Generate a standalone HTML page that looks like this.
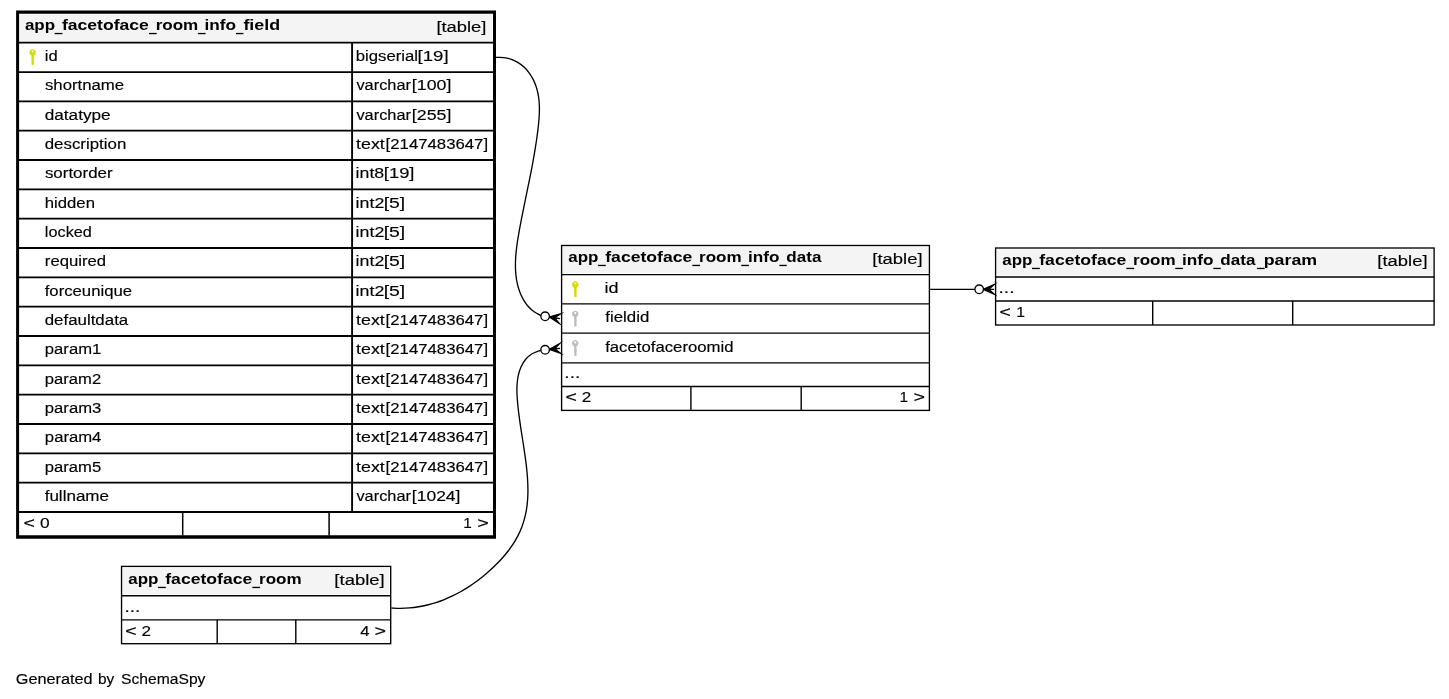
<!DOCTYPE html>
<html><head><meta charset="utf-8"><title>app_facetoface_room_info_field</title>
<style>
html,body{margin:0;padding:0;background:#fff;}
svg{display:block;will-change:transform;font-family:"Liberation Sans",sans-serif;font-size:15.4px;}
</style></head><body>
<svg width="1449" height="699" viewBox="0 0 1449 699">
<rect x="0" y="0" width="1449" height="699" fill="#fff"/>
<rect x="19.90" y="14.50" width="472.30" height="26.80" fill="#f4f4f4"/>
<line x1="19.00" y1="42.70" x2="493.00" y2="42.70" stroke="#000" stroke-width="1.8"/>
<line x1="19.00" y1="72.03" x2="493.00" y2="72.03" stroke="#000" stroke-width="1.8"/>
<line x1="19.00" y1="101.36" x2="493.00" y2="101.36" stroke="#000" stroke-width="1.8"/>
<line x1="19.00" y1="130.69" x2="493.00" y2="130.69" stroke="#000" stroke-width="1.8"/>
<line x1="19.00" y1="160.02" x2="493.00" y2="160.02" stroke="#000" stroke-width="1.8"/>
<line x1="19.00" y1="189.35" x2="493.00" y2="189.35" stroke="#000" stroke-width="1.8"/>
<line x1="19.00" y1="218.68" x2="493.00" y2="218.68" stroke="#000" stroke-width="1.8"/>
<line x1="19.00" y1="248.01" x2="493.00" y2="248.01" stroke="#000" stroke-width="1.8"/>
<line x1="19.00" y1="277.34" x2="493.00" y2="277.34" stroke="#000" stroke-width="1.8"/>
<line x1="19.00" y1="306.67" x2="493.00" y2="306.67" stroke="#000" stroke-width="1.8"/>
<line x1="19.00" y1="336.00" x2="493.00" y2="336.00" stroke="#000" stroke-width="1.8"/>
<line x1="19.00" y1="365.33" x2="493.00" y2="365.33" stroke="#000" stroke-width="1.8"/>
<line x1="19.00" y1="394.66" x2="493.00" y2="394.66" stroke="#000" stroke-width="1.8"/>
<line x1="19.00" y1="423.99" x2="493.00" y2="423.99" stroke="#000" stroke-width="1.8"/>
<line x1="19.00" y1="453.32" x2="493.00" y2="453.32" stroke="#000" stroke-width="1.8"/>
<line x1="19.00" y1="482.65" x2="493.00" y2="482.65" stroke="#000" stroke-width="1.8"/>
<line x1="19.00" y1="511.98" x2="493.00" y2="511.98" stroke="#000" stroke-width="1.8"/>
<line x1="352.10" y1="42.70" x2="352.10" y2="511.98" stroke="#000" stroke-width="1.9"/>
<line x1="182.70" y1="511.98" x2="182.70" y2="535.50" stroke="#000" stroke-width="1.5"/>
<line x1="329.10" y1="511.98" x2="329.10" y2="535.50" stroke="#000" stroke-width="1.5"/>
<path fill-rule="evenodd" d="M16.1,10.5 H496.0 V538.8 H16.1 Z M19.1,13.7 H493.0 V535.3 H19.1 Z" fill="#000"/>
<text x="24.91" y="29.80" textLength="30.19" lengthAdjust="spacingAndGlyphs" font-weight="bold" fill="#000">app</text>
<text x="61.90" y="29.80" textLength="86.99" lengthAdjust="spacingAndGlyphs" font-weight="bold" fill="#000">facetoface</text>
<text x="155.68" y="29.80" textLength="42.58" lengthAdjust="spacingAndGlyphs" font-weight="bold" fill="#000">room</text>
<text x="204.60" y="29.80" textLength="31.46" lengthAdjust="spacingAndGlyphs" font-weight="bold" fill="#000">info</text>
<text x="243.40" y="29.80" textLength="36.67" lengthAdjust="spacingAndGlyphs" font-weight="bold" fill="#000">field</text>
<rect x="54.65" y="32.90" width="7.80" height="1.30" fill="#000"/>
<rect x="149.00" y="32.90" width="7.70" height="1.30" fill="#000"/>
<rect x="197.90" y="32.90" width="7.70" height="1.30" fill="#000"/>
<rect x="236.00" y="32.90" width="7.40" height="1.30" fill="#000"/>
<text x="436.40" y="31.85" textLength="50.01" lengthAdjust="spacingAndGlyphs" stroke="#000" stroke-width="0.15" fill="#000">[table]</text>
<text x="44.87" y="60.90" textLength="12.90" lengthAdjust="spacingAndGlyphs" stroke="#000" stroke-width="0.15" fill="#000">id</text>
<text x="355.73" y="60.90" textLength="62.29" lengthAdjust="spacingAndGlyphs" stroke="#000" stroke-width="0.15" fill="#000">bigserial</text>
<text x="417.58" y="60.90" textLength="31.04" lengthAdjust="spacingAndGlyphs" stroke="#000" stroke-width="0.15" fill="#000">[19]</text>
<text x="44.93" y="90.23" textLength="79.25" lengthAdjust="spacingAndGlyphs" stroke="#000" stroke-width="0.15" fill="#000">shortname</text>
<text x="356.45" y="90.23" textLength="54.52" lengthAdjust="spacingAndGlyphs" stroke="#000" stroke-width="0.15" fill="#000">varchar</text>
<text x="411.84" y="90.23" textLength="39.53" lengthAdjust="spacingAndGlyphs" stroke="#000" stroke-width="0.15" fill="#000">[100]</text>
<text x="44.69" y="119.56" textLength="65.95" lengthAdjust="spacingAndGlyphs" stroke="#000" stroke-width="0.15" fill="#000">datatype</text>
<text x="356.45" y="119.56" textLength="54.52" lengthAdjust="spacingAndGlyphs" stroke="#000" stroke-width="0.15" fill="#000">varchar</text>
<text x="411.84" y="119.56" textLength="39.53" lengthAdjust="spacingAndGlyphs" stroke="#000" stroke-width="0.15" fill="#000">[255]</text>
<text x="44.70" y="148.89" textLength="81.62" lengthAdjust="spacingAndGlyphs" stroke="#000" stroke-width="0.15" fill="#000">description</text>
<text x="356.08" y="148.89" textLength="28.74" lengthAdjust="spacingAndGlyphs" stroke="#000" stroke-width="0.15" fill="#000">text</text>
<text x="385.61" y="148.89" textLength="102.48" lengthAdjust="spacingAndGlyphs" stroke="#000" stroke-width="0.15" fill="#000">[2147483647]</text>
<text x="44.92" y="178.22" textLength="67.72" lengthAdjust="spacingAndGlyphs" stroke="#000" stroke-width="0.15" fill="#000">sortorder</text>
<text x="355.61" y="178.22" textLength="28.55" lengthAdjust="spacingAndGlyphs" stroke="#000" stroke-width="0.15" fill="#000">int8</text>
<text x="383.79" y="178.22" textLength="30.71" lengthAdjust="spacingAndGlyphs" stroke="#000" stroke-width="0.15" fill="#000">[19]</text>
<text x="44.79" y="207.55" textLength="50.15" lengthAdjust="spacingAndGlyphs" stroke="#000" stroke-width="0.15" fill="#000">hidden</text>
<text x="355.61" y="207.55" textLength="28.69" lengthAdjust="spacingAndGlyphs" stroke="#000" stroke-width="0.15" fill="#000">int2</text>
<text x="383.72" y="207.55" textLength="21.55" lengthAdjust="spacingAndGlyphs" stroke="#000" stroke-width="0.15" fill="#000">[5]</text>
<text x="44.89" y="236.88" textLength="47.02" lengthAdjust="spacingAndGlyphs" stroke="#000" stroke-width="0.15" fill="#000">locked</text>
<text x="355.61" y="236.88" textLength="28.69" lengthAdjust="spacingAndGlyphs" stroke="#000" stroke-width="0.15" fill="#000">int2</text>
<text x="383.72" y="236.88" textLength="21.55" lengthAdjust="spacingAndGlyphs" stroke="#000" stroke-width="0.15" fill="#000">[5]</text>
<text x="44.84" y="266.21" textLength="61.19" lengthAdjust="spacingAndGlyphs" stroke="#000" stroke-width="0.15" fill="#000">required</text>
<text x="355.61" y="266.21" textLength="28.69" lengthAdjust="spacingAndGlyphs" stroke="#000" stroke-width="0.15" fill="#000">int2</text>
<text x="383.72" y="266.21" textLength="21.55" lengthAdjust="spacingAndGlyphs" stroke="#000" stroke-width="0.15" fill="#000">[5]</text>
<text x="44.70" y="295.54" textLength="87.42" lengthAdjust="spacingAndGlyphs" stroke="#000" stroke-width="0.15" fill="#000">forceunique</text>
<text x="355.61" y="295.54" textLength="28.69" lengthAdjust="spacingAndGlyphs" stroke="#000" stroke-width="0.15" fill="#000">int2</text>
<text x="383.72" y="295.54" textLength="21.55" lengthAdjust="spacingAndGlyphs" stroke="#000" stroke-width="0.15" fill="#000">[5]</text>
<text x="44.70" y="324.87" textLength="83.53" lengthAdjust="spacingAndGlyphs" stroke="#000" stroke-width="0.15" fill="#000">defaultdata</text>
<text x="356.08" y="324.87" textLength="28.74" lengthAdjust="spacingAndGlyphs" stroke="#000" stroke-width="0.15" fill="#000">text</text>
<text x="385.61" y="324.87" textLength="102.48" lengthAdjust="spacingAndGlyphs" stroke="#000" stroke-width="0.15" fill="#000">[2147483647]</text>
<text x="44.88" y="354.20" textLength="56.34" lengthAdjust="spacingAndGlyphs" stroke="#000" stroke-width="0.15" fill="#000">param1</text>
<text x="356.08" y="354.20" textLength="28.74" lengthAdjust="spacingAndGlyphs" stroke="#000" stroke-width="0.15" fill="#000">text</text>
<text x="385.61" y="354.20" textLength="102.48" lengthAdjust="spacingAndGlyphs" stroke="#000" stroke-width="0.15" fill="#000">[2147483647]</text>
<text x="44.88" y="383.53" textLength="56.24" lengthAdjust="spacingAndGlyphs" stroke="#000" stroke-width="0.15" fill="#000">param2</text>
<text x="356.08" y="383.53" textLength="28.74" lengthAdjust="spacingAndGlyphs" stroke="#000" stroke-width="0.15" fill="#000">text</text>
<text x="385.61" y="383.53" textLength="102.48" lengthAdjust="spacingAndGlyphs" stroke="#000" stroke-width="0.15" fill="#000">[2147483647]</text>
<text x="44.87" y="412.86" textLength="56.44" lengthAdjust="spacingAndGlyphs" stroke="#000" stroke-width="0.15" fill="#000">param3</text>
<text x="356.08" y="412.86" textLength="28.74" lengthAdjust="spacingAndGlyphs" stroke="#000" stroke-width="0.15" fill="#000">text</text>
<text x="385.61" y="412.86" textLength="102.48" lengthAdjust="spacingAndGlyphs" stroke="#000" stroke-width="0.15" fill="#000">[2147483647]</text>
<text x="44.87" y="442.19" textLength="56.54" lengthAdjust="spacingAndGlyphs" stroke="#000" stroke-width="0.15" fill="#000">param4</text>
<text x="356.08" y="442.19" textLength="28.74" lengthAdjust="spacingAndGlyphs" stroke="#000" stroke-width="0.15" fill="#000">text</text>
<text x="385.61" y="442.19" textLength="102.48" lengthAdjust="spacingAndGlyphs" stroke="#000" stroke-width="0.15" fill="#000">[2147483647]</text>
<text x="44.88" y="471.52" textLength="56.30" lengthAdjust="spacingAndGlyphs" stroke="#000" stroke-width="0.15" fill="#000">param5</text>
<text x="356.08" y="471.52" textLength="28.74" lengthAdjust="spacingAndGlyphs" stroke="#000" stroke-width="0.15" fill="#000">text</text>
<text x="385.61" y="471.52" textLength="102.48" lengthAdjust="spacingAndGlyphs" stroke="#000" stroke-width="0.15" fill="#000">[2147483647]</text>
<text x="44.70" y="500.85" textLength="64.32" lengthAdjust="spacingAndGlyphs" stroke="#000" stroke-width="0.15" fill="#000">fullname</text>
<text x="356.45" y="500.85" textLength="54.52" lengthAdjust="spacingAndGlyphs" stroke="#000" stroke-width="0.15" fill="#000">varchar</text>
<text x="411.86" y="500.85" textLength="48.59" lengthAdjust="spacingAndGlyphs" stroke="#000" stroke-width="0.15" fill="#000">[1024]</text>
<g transform="translate(32.60,52.40)" fill="#d3dc00"><path fill-rule="evenodd" d="M0,-3.25 A3.25,3.25 0 1 1 -0.01,-3.25 Z M0,-1.85 A0.95,0.95 0 1 0 0.01,-1.85 Z"/><path d="M-1.2,2.4 L1.25,2.4 L1.25,5.9 L1.8,6.3 L1.25,6.8 L1.25,8.0 L1.8,8.4 L1.25,8.9 L1.25,10.9 L1.8,11.4 L1.0,12.2 L0.5,12.8 L-0.4,12.8 L-1.0,12.0 Z"/></g>
<text x="23.44" y="527.70" textLength="11.42" lengthAdjust="spacingAndGlyphs" stroke="#000" stroke-width="0.15" fill="#000">&lt;</text>
<text x="40.07" y="527.70" textLength="9.66" lengthAdjust="spacingAndGlyphs" stroke="#000" stroke-width="0.15" fill="#000">0</text>
<text x="463.24" y="527.70" textLength="8.52" lengthAdjust="spacingAndGlyphs" stroke="#000" stroke-width="0.15" fill="#000">1</text>
<text x="477.33" y="527.70" textLength="11.54" lengthAdjust="spacingAndGlyphs" stroke="#000" stroke-width="0.15" fill="#000">&gt;</text>
<rect x="563.05" y="247.00" width="364.90" height="26.00" fill="#f4f4f4"/>
<line x1="561.60" y1="274.60" x2="929.40" y2="274.60" stroke="#000" stroke-width="1.35"/>
<line x1="561.60" y1="303.90" x2="929.40" y2="303.90" stroke="#000" stroke-width="1.35"/>
<line x1="561.60" y1="333.10" x2="929.40" y2="333.10" stroke="#000" stroke-width="1.35"/>
<line x1="561.60" y1="362.80" x2="929.40" y2="362.80" stroke="#000" stroke-width="1.35"/>
<line x1="561.60" y1="386.50" x2="929.40" y2="386.50" stroke="#000" stroke-width="1.35"/>
<line x1="690.90" y1="386.50" x2="690.90" y2="410.40" stroke="#000" stroke-width="1.4"/>
<line x1="801.20" y1="386.50" x2="801.20" y2="410.40" stroke="#000" stroke-width="1.4"/>
<rect x="561.60" y="245.50" width="367.80" height="164.90" fill="none" stroke="#000" stroke-width="1.35"/>
<text x="568.26" y="261.70" textLength="30.19" lengthAdjust="spacingAndGlyphs" font-weight="bold" fill="#000">app</text>
<text x="605.25" y="261.70" textLength="86.99" lengthAdjust="spacingAndGlyphs" font-weight="bold" fill="#000">facetoface</text>
<text x="699.03" y="261.70" textLength="42.58" lengthAdjust="spacingAndGlyphs" font-weight="bold" fill="#000">room</text>
<text x="747.95" y="261.70" textLength="31.46" lengthAdjust="spacingAndGlyphs" font-weight="bold" fill="#000">info</text>
<text x="786.35" y="261.70" textLength="35.08" lengthAdjust="spacingAndGlyphs" font-weight="bold" fill="#000">data</text>
<rect x="598.00" y="264.80" width="7.80" height="1.30" fill="#000"/>
<rect x="692.35" y="264.80" width="7.70" height="1.30" fill="#000"/>
<rect x="741.25" y="264.80" width="7.70" height="1.30" fill="#000"/>
<rect x="779.35" y="264.80" width="7.40" height="1.30" fill="#000"/>
<text x="872.39" y="263.85" textLength="50.22" lengthAdjust="spacingAndGlyphs" stroke="#000" stroke-width="0.15" fill="#000">[table]</text>
<text x="604.49" y="292.90" textLength="14.07" lengthAdjust="spacingAndGlyphs" stroke="#000" stroke-width="0.15" fill="#000">id</text>
<text x="605.26" y="321.90" textLength="44.01" lengthAdjust="spacingAndGlyphs" stroke="#000" stroke-width="0.15" fill="#000">fieldid</text>
<text x="605.17" y="351.60" textLength="128.40" lengthAdjust="spacingAndGlyphs" stroke="#000" stroke-width="0.15" fill="#000">facetofaceroomid</text>
<g transform="translate(575.25,284.50)" fill="#d3dc00"><path fill-rule="evenodd" d="M0,-3.25 A3.25,3.25 0 1 1 -0.01,-3.25 Z M0,-1.85 A0.95,0.95 0 1 0 0.01,-1.85 Z"/><path d="M-1.2,2.4 L1.25,2.4 L1.25,5.9 L1.8,6.3 L1.25,6.8 L1.25,8.0 L1.8,8.4 L1.25,8.9 L1.25,10.9 L1.8,11.4 L1.0,12.2 L0.5,12.8 L-0.4,12.8 L-1.0,12.0 Z"/></g>
<g transform="translate(575.25,313.90)" fill="#bebebe"><path fill-rule="evenodd" d="M0,-3.25 A3.25,3.25 0 1 1 -0.01,-3.25 Z M0,-1.85 A0.95,0.95 0 1 0 0.01,-1.85 Z"/><path d="M-1.2,2.4 L1.25,2.4 L1.25,5.9 L1.8,6.3 L1.25,6.8 L1.25,8.0 L1.8,8.4 L1.25,8.9 L1.25,10.9 L1.8,11.4 L1.0,12.2 L0.5,12.8 L-0.4,12.8 L-1.0,12.0 Z"/></g>
<g transform="translate(575.25,343.30)" fill="#bebebe"><path fill-rule="evenodd" d="M0,-3.25 A3.25,3.25 0 1 1 -0.01,-3.25 Z M0,-1.85 A0.95,0.95 0 1 0 0.01,-1.85 Z"/><path d="M-1.2,2.4 L1.25,2.4 L1.25,5.9 L1.8,6.3 L1.25,6.8 L1.25,8.0 L1.8,8.4 L1.25,8.9 L1.25,10.9 L1.8,11.4 L1.0,12.2 L0.5,12.8 L-0.4,12.8 L-1.0,12.0 Z"/></g>
<text x="564.36" y="378.30" textLength="15.98" lengthAdjust="spacingAndGlyphs" stroke="#000" stroke-width="0.15" fill="#000">...</text>
<text x="565.44" y="402.10" textLength="11.42" lengthAdjust="spacingAndGlyphs" stroke="#000" stroke-width="0.15" fill="#000">&lt;</text>
<text x="581.74" y="402.10" textLength="9.51" lengthAdjust="spacingAndGlyphs" stroke="#000" stroke-width="0.15" fill="#000">2</text>
<text x="899.44" y="402.10" textLength="8.52" lengthAdjust="spacingAndGlyphs" stroke="#000" stroke-width="0.15" fill="#000">1</text>
<text x="913.63" y="402.10" textLength="11.54" lengthAdjust="spacingAndGlyphs" stroke="#000" stroke-width="0.15" fill="#000">&gt;</text>
<rect x="997.05" y="249.50" width="435.60" height="25.90" fill="#f4f4f4"/>
<line x1="995.60" y1="277.00" x2="1434.10" y2="277.00" stroke="#000" stroke-width="1.35"/>
<line x1="995.60" y1="301.00" x2="1434.10" y2="301.00" stroke="#000" stroke-width="1.35"/>
<line x1="1152.70" y1="301.00" x2="1152.70" y2="325.00" stroke="#000" stroke-width="1.4"/>
<line x1="1292.70" y1="301.00" x2="1292.70" y2="325.00" stroke="#000" stroke-width="1.4"/>
<rect x="995.60" y="248.00" width="438.50" height="77.00" fill="none" stroke="#000" stroke-width="1.35"/>
<text x="1002.26" y="264.70" textLength="30.19" lengthAdjust="spacingAndGlyphs" font-weight="bold" fill="#000">app</text>
<text x="1039.25" y="264.70" textLength="86.99" lengthAdjust="spacingAndGlyphs" font-weight="bold" fill="#000">facetoface</text>
<text x="1133.03" y="264.70" textLength="42.58" lengthAdjust="spacingAndGlyphs" font-weight="bold" fill="#000">room</text>
<text x="1181.95" y="264.70" textLength="31.46" lengthAdjust="spacingAndGlyphs" font-weight="bold" fill="#000">info</text>
<text x="1220.35" y="264.70" textLength="35.08" lengthAdjust="spacingAndGlyphs" font-weight="bold" fill="#000">data</text>
<text x="1263.78" y="264.70" textLength="53.38" lengthAdjust="spacingAndGlyphs" font-weight="bold" fill="#000">param</text>
<rect x="1032.00" y="267.80" width="7.80" height="1.30" fill="#000"/>
<rect x="1126.35" y="267.80" width="7.70" height="1.30" fill="#000"/>
<rect x="1175.25" y="267.80" width="7.70" height="1.30" fill="#000"/>
<rect x="1213.35" y="267.80" width="7.40" height="1.30" fill="#000"/>
<rect x="1256.95" y="267.80" width="7.70" height="1.30" fill="#000"/>
<text x="1377.39" y="265.90" textLength="50.22" lengthAdjust="spacingAndGlyphs" stroke="#000" stroke-width="0.15" fill="#000">[table]</text>
<text x="998.57" y="293.00" textLength="15.85" lengthAdjust="spacingAndGlyphs" stroke="#000" stroke-width="0.15" fill="#000">...</text>
<text x="999.54" y="316.80" textLength="11.42" lengthAdjust="spacingAndGlyphs" stroke="#000" stroke-width="0.15" fill="#000">&lt;</text>
<text x="1016.30" y="316.80" textLength="8.77" lengthAdjust="spacingAndGlyphs" stroke="#000" stroke-width="0.15" fill="#000">1</text>
<rect x="123.00" y="567.90" width="266.25" height="26.20" fill="#f4f4f4"/>
<line x1="121.55" y1="595.70" x2="390.70" y2="595.70" stroke="#000" stroke-width="1.35"/>
<line x1="121.55" y1="619.80" x2="390.70" y2="619.80" stroke="#000" stroke-width="1.35"/>
<line x1="217.20" y1="619.80" x2="217.20" y2="643.70" stroke="#000" stroke-width="1.4"/>
<line x1="295.80" y1="619.80" x2="295.80" y2="643.70" stroke="#000" stroke-width="1.4"/>
<rect x="121.55" y="566.40" width="269.15" height="77.30" fill="none" stroke="#000" stroke-width="1.35"/>
<text x="128.26" y="583.70" textLength="30.19" lengthAdjust="spacingAndGlyphs" font-weight="bold" fill="#000">app</text>
<text x="165.25" y="583.70" textLength="86.99" lengthAdjust="spacingAndGlyphs" font-weight="bold" fill="#000">facetoface</text>
<text x="259.03" y="583.70" textLength="42.58" lengthAdjust="spacingAndGlyphs" font-weight="bold" fill="#000">room</text>
<rect x="158.00" y="586.80" width="7.80" height="1.30" fill="#000"/>
<rect x="252.35" y="586.80" width="7.70" height="1.30" fill="#000"/>
<text x="334.39" y="584.70" textLength="50.33" lengthAdjust="spacingAndGlyphs" stroke="#000" stroke-width="0.15" fill="#000">[table]</text>
<text x="124.47" y="612.10" textLength="15.85" lengthAdjust="spacingAndGlyphs" stroke="#000" stroke-width="0.15" fill="#000">...</text>
<text x="125.24" y="635.70" textLength="11.42" lengthAdjust="spacingAndGlyphs" stroke="#000" stroke-width="0.15" fill="#000">&lt;</text>
<text x="141.54" y="635.70" textLength="9.51" lengthAdjust="spacingAndGlyphs" stroke="#000" stroke-width="0.15" fill="#000">2</text>
<text x="360.22" y="635.60" textLength="9.27" lengthAdjust="spacingAndGlyphs" stroke="#000" stroke-width="0.15" fill="#000">4</text>
<text x="374.53" y="635.60" textLength="11.54" lengthAdjust="spacingAndGlyphs" stroke="#000" stroke-width="0.15" fill="#000">&gt;</text>
<text x="15.79" y="683.70" textLength="76.86" lengthAdjust="spacingAndGlyphs" stroke="#000" stroke-width="0.15" fill="#000">Generated</text>
<text x="98.01" y="683.70" textLength="16.32" lengthAdjust="spacingAndGlyphs" stroke="#000" stroke-width="0.15" fill="#000">by</text>
<text x="121.00" y="683.70" textLength="84.43" lengthAdjust="spacingAndGlyphs" stroke="#000" stroke-width="0.15" fill="#000">SchemaSpy</text>
<path d="M496.00,57.40 C497.34,57.43 501.45,57.24 504.03,57.57 C506.61,57.90 509.11,58.54 511.46,59.38 C513.82,60.23 516.07,61.35 518.17,62.64 C520.26,63.92 522.22,65.45 524.02,67.11 C525.81,68.78 527.45,70.64 528.92,72.61 C530.40,74.57 531.71,76.70 532.87,78.90 C534.03,81.09 535.02,83.42 535.86,85.77 C536.69,88.12 537.36,90.56 537.88,93.01 C538.41,95.46 538.76,97.96 539.01,100.47 C539.27,102.98 539.37,105.53 539.41,108.08 C539.44,110.63 539.35,113.21 539.22,115.77 C539.09,118.34 538.86,120.92 538.61,123.49 C538.36,126.05 538.05,128.61 537.74,131.15 C537.42,133.69 537.08,136.22 536.72,138.73 C536.37,141.24 535.99,143.73 535.60,146.21 C535.21,148.69 534.80,151.16 534.38,153.62 C533.97,156.08 533.53,158.53 533.09,160.97 C532.64,163.42 532.18,165.85 531.72,168.28 C531.25,170.71 530.78,173.14 530.30,175.56 C529.81,177.99 529.32,180.41 528.83,182.83 C528.34,185.25 527.84,187.67 527.34,190.09 C526.84,192.52 526.34,194.94 525.84,197.37 C525.34,199.81 524.83,202.24 524.34,204.69 C523.84,207.13 523.34,209.58 522.85,212.04 C522.36,214.50 521.87,216.97 521.39,219.45 C520.91,221.94 520.43,224.43 519.97,226.94 C519.50,229.45 519.04,231.98 518.61,234.52 C518.17,237.05 517.74,239.61 517.37,242.16 C517.00,244.71 516.64,247.28 516.36,249.83 C516.08,252.39 515.83,254.95 515.68,257.49 C515.52,260.04 515.42,262.58 515.42,265.10 C515.42,267.62 515.50,270.13 515.70,272.61 C515.89,275.10 516.18,277.56 516.60,280.00 C517.02,282.43 517.55,284.84 518.24,287.21 C518.92,289.57 519.73,291.93 520.70,294.20 C521.68,296.46 522.80,298.71 524.10,300.81 C525.41,302.91 526.87,304.94 528.54,306.77 C530.20,308.61 532.04,310.33 534.10,311.81 C536.16,313.29 539.77,315.00 540.90,315.64" fill="none" stroke="#000" stroke-width="1.33"/>
<path d="M391.30,608.00 C392.83,608.05 397.46,608.34 400.51,608.32 C403.55,608.30 406.58,608.16 409.59,607.90 C412.59,607.64 415.57,607.26 418.53,606.78 C421.48,606.29 424.41,605.69 427.31,604.98 C430.20,604.28 433.07,603.46 435.91,602.55 C438.75,601.64 441.55,600.62 444.32,599.52 C447.09,598.41 449.83,597.21 452.52,595.92 C455.22,594.63 457.88,593.24 460.50,591.78 C463.11,590.32 465.69,588.77 468.23,587.15 C470.76,585.53 473.25,583.83 475.69,582.06 C478.14,580.29 480.54,578.44 482.89,576.53 C485.23,574.63 487.54,572.65 489.78,570.61 C492.03,568.58 494.23,566.48 496.37,564.33 C498.50,562.18 500.60,559.98 502.59,557.71 C504.59,555.44 506.53,553.12 508.35,550.73 C510.17,548.34 511.91,545.89 513.52,543.37 C515.13,540.85 516.64,538.27 517.99,535.62 C519.35,532.97 520.58,530.24 521.65,527.46 C522.72,524.67 523.65,521.81 524.43,518.91 C525.22,516.02 525.86,513.06 526.37,510.09 C526.88,507.13 527.25,504.12 527.50,501.11 C527.76,498.10 527.88,495.07 527.92,492.04 C527.97,489.02 527.89,485.98 527.76,482.96 C527.64,479.94 527.41,476.91 527.16,473.91 C526.91,470.91 526.59,467.93 526.24,464.95 C525.90,461.98 525.51,459.02 525.10,456.07 C524.69,453.11 524.25,450.17 523.80,447.23 C523.35,444.28 522.88,441.34 522.42,438.39 C521.96,435.45 521.49,432.50 521.03,429.54 C520.58,426.58 520.13,423.62 519.72,420.64 C519.30,417.65 518.90,414.66 518.54,411.64 C518.18,408.63 517.84,405.59 517.58,402.53 C517.31,399.48 517.06,396.39 516.97,393.33 C516.89,390.27 516.87,387.19 517.09,384.19 C517.31,381.19 517.66,378.19 518.31,375.31 C518.96,372.43 519.81,369.55 521.01,366.92 C522.21,364.28 523.67,361.71 525.51,359.51 C527.35,357.30 529.49,355.26 532.05,353.70 C534.61,352.14 539.40,350.74 540.87,350.15" fill="none" stroke="#000" stroke-width="1.33"/>
<line x1="930.10" y1="289.30" x2="974.90" y2="289.30" stroke="#000" stroke-width="1.33"/>
<path d="M549.34,316.93 L559.16,323.29 L554.61,317.73 L559.89,318.54 L554.61,317.73 L560.61,313.80 Z" fill="#000" stroke="#000" stroke-width="1.33" stroke-linejoin="miter" stroke-miterlimit="10"/>
<circle cx="545.12" cy="316.28" r="4.27" fill="#fff" stroke="#000" stroke-width="1.33"/>
<path d="M549.37,349.39 L560.43,353.20 L554.69,348.90 L560.00,348.42 L554.69,348.90 L559.57,343.64 Z" fill="#000" stroke="#000" stroke-width="1.33" stroke-linejoin="miter" stroke-miterlimit="10"/>
<circle cx="545.12" cy="349.77" r="4.27" fill="#fff" stroke="#000" stroke-width="1.33"/>
<path d="M983.47,289.30 L994.14,294.10 L988.81,289.30 L994.14,289.30 L988.81,289.30 L994.14,284.50 Z" fill="#000" stroke="#000" stroke-width="1.33" stroke-linejoin="miter" stroke-miterlimit="10"/>
<circle cx="979.20" cy="289.30" r="4.27" fill="#fff" stroke="#000" stroke-width="1.33"/>
</svg>
</body></html>
